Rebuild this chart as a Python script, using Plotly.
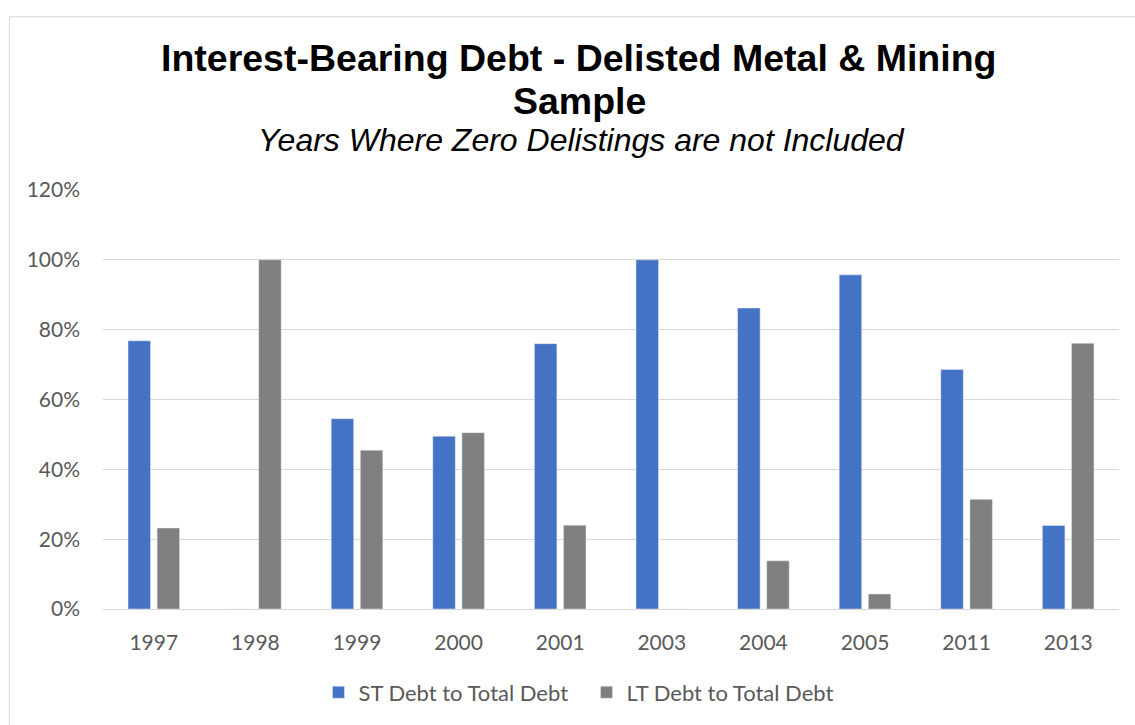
import plotly.graph_objects as go

years = ["1997", "1998", "1999", "2000", "2001", "2003", "2004", "2005", "2011", "2013"]
st_debt = [0.768, 0.0, 0.545, 0.495, 0.760, 1.0, 0.862, 0.957, 0.686, 0.239]
lt_debt = [0.232, 1.0, 0.455, 0.505, 0.240, 0.0, 0.138, 0.043, 0.314, 0.761]

title_line1 = "Interest-Bearing Debt - Delisted Metal & Mining"
title_line2 = "Sample"
subtitle = "Years Where Zero Delistings are not Included"

W, H = 1135, 725
L, R, T, B = 103, 16, 190, 113
ph = H - T - B
pw = W - L - R

def py(ypix):
    return (H - B - ypix) / ph

def px(xpix):
    return (xpix - L) / pw

tick_font = dict(family="Lato, Carlito, Calibri, sans-serif", size=21, color="#595959")
legend_font = dict(family="Lato, Carlito, Calibri, sans-serif", size=22, color="#595959")

fig = go.Figure()
fig.add_trace(go.Bar(x=years, y=st_debt, name="ST Debt to Total Debt", marker_color="#4472C4"))
fig.add_trace(go.Bar(x=years, y=lt_debt, name="LT Debt to Total Debt", marker_color="#7F7F7F"))

fig.update_layout(
    width=W, height=H,
    margin=dict(l=L, r=R, t=T, b=B),
    paper_bgcolor="white", plot_bgcolor="white",
    barmode="group", bargap=0.427, bargroupgap=0.227,
    showlegend=True,
    legend=dict(orientation="h", x=px(586.5), xanchor="center", y=py(696), yanchor="middle",
                font=legend_font, itemwidth=30, entrywidth=223, entrywidthmode="pixels"),
    xaxis=dict(type="category", showgrid=False, showline=False, zeroline=False,
               tickfont=tick_font, ticks="", ticklabelstandoff=19),
    yaxis=dict(range=[0, 1.2], dtick=0.2, tickformat=".0%", showgrid=True, gridcolor="#D9D9D9",
               gridwidth=1, zeroline=True, zerolinecolor="#D9D9D9", zerolinewidth=1,
               showline=False, tickfont=tick_font, ticks="", ticklabelstandoff=22),
    annotations=[
        dict(text="<b>" + title_line1 + "</b>", x=px(579), y=py(57), xref="paper", yref="paper",
             xanchor="center", yanchor="middle", showarrow=False,
             font=dict(family="Liberation Sans, Arial, sans-serif", size=37.5, color="black")),
        dict(text="<b>" + title_line2 + "</b>", x=px(579), y=py(100), xref="paper", yref="paper",
             xanchor="center", yanchor="middle", showarrow=False,
             font=dict(family="Liberation Sans, Arial, sans-serif", size=37.5, color="black")),
        dict(text="<i>" + subtitle + "</i>", x=px(581), y=py(140), xref="paper", yref="paper",
             xanchor="center", yanchor="middle", showarrow=False,
             font=dict(family="Liberation Sans, Arial, sans-serif", size=32, color="black")),
    ],
    shapes=[
        dict(type="rect", xref="paper", yref="paper", x0=px(9.5), y0=py(15.5), x1=px(1160), y1=py(760),
             line=dict(color="#D9D9D9", width=1), fillcolor="rgba(0,0,0,0)", layer="below"),
    ],
)

fig.write_html("out.html")
